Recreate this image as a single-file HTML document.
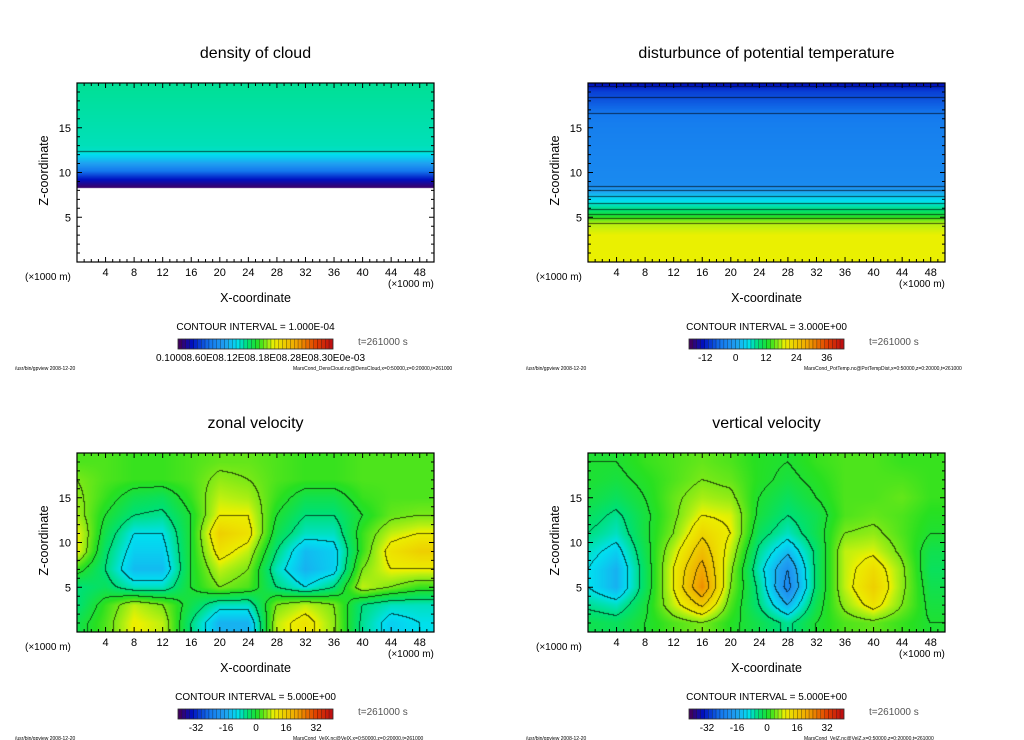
<!DOCTYPE html>
<html><head><meta charset="utf-8">
<style>
html,body{margin:0;padding:0;background:#fff;}
#root{position:relative;width:1024px;height:740px;overflow:hidden;font-family:"Liberation Sans",sans-serif;}
canvas{position:absolute;}
svg{position:absolute;left:0;top:0;}
</style></head>
<body>
<div id="root">
<svg id="ov" width="1024" height="740"></svg>
</div>
<script>
// ---- data ----
const gridX = [0,4,8,12,16,20,24,28,32,36,40,44,48];
const gridZ = [19,17,15,13,11,9,7,5,3,1];
const zonalVel = [
[3,3,2,2,3,4,4,3,2,2,3,3,3],
[5,3,2,2,3,6,5,3,2,2,3,3,3],
[6,2,-2,-3,2,8,7,2,-2,-2,2,3,3],
[7,0,-5,-6,0,10,10,0,-5,-5,0,4,5],
[10,-2,-10,-10,0,15,12,-2,-8,-8,2,8,10],
[10,-4,-12,-12,0,12,8,-5,-14,-12,2,12,15],
[2,-5,-14,-14,0,8,5,-8,-15,-12,5,10,10],
[-5,-3,-8,-8,0,5,3,-5,-10,-5,8,5,2],
[-5,2,8,5,-2,-8,-8,5,8,5,-5,-8,-8],
[-2,3,10,8,-5,-15,-15,8,12,6,-6,-12,-10]];
const vertVel = [
[0,0,2,3,4,3,1,0,2,3,3,2,2],
[0,-1,1,3,5,4,1,-1,1,3,3,3,2],
[-1,-3,0,4,7,6,0,-3,0,3,3,4,2],
[-3,-6,-1,4,10,9,-1,-5,-2,3,4,3,1],
[-5,-8,-1,5,14,10,-3,-8,-2,5,6,3,0],
[-8,-12,-2,8,18,8,-6,-14,-4,8,9,4,-2],
[-10,-15,-3,10,22,6,-8,-20,-4,8,13,6,-3],
[-10,-15,-3,10,25,5,-6,-22,-4,8,15,6,-2],
[-6,-8,-1,8,16,3,-5,-15,-2,6,12,5,-1],
[-2,-3,0,3,5,1,-2,-6,0,3,4,2,0]];
const thetaZ = [20,19,18.3,16.5,15,11,9,8.4,7.9,7.3,6.5,5.8,5.2,4.8,4.3,3,0];
const thetaVal = [-14,-10,-9,-6,-5,-4,-3.5,-3,0,3,6,9,12,15,18,19.5,19.5];
const cloudZ = [20,13,12.3,11,10,9.2,8.6,8.35];
const cloudVal = [21.5,20.5,20,15,9,4,1.5,0.5];
const cbTicksVel = [-32,-16,0,16,32];
const cbTicksTheta = [-12,0,12,24,36];
const xTicks = [4,8,12,16,20,24,28,32,36,40,44,48];
const zTicks = [5,10,15];

const stops=[[0,[64,0,96]],[0.08,[0,16,192]],[0.2,[20,120,238]],[0.3,[32,160,240]],[0.38,[0,224,240]],[0.45,[0,224,112]],[0.52,[40,224,32]],[0.6,[190,240,16]],[0.62,[236,240,0]],[0.78,[240,160,0]],[0.9,[224,64,0]],[1,[192,16,16]]];
function cmap(t){t=Math.max(0,Math.min(1,t));for(let i=1;i<stops.length;i++){if(t<=stops[i][0]){const a=stops[i-1],b=stops[i],f=(t-a[0])/(b[0]-a[0]);return [0,1,2].map(k=>a[1][k]+(b[1][k]-a[1][k])*f);}}return stops[stops.length-1][1];}
function interp1(arr,vals,v){
  const n=arr.length;const asc=arr[n-1]>arr[0];
  for(let i=0;i<n-1;i++){const a=arr[i],b=arr[i+1];if((asc&&v>=a&&v<=b)||(!asc&&v<=a&&v>=b)){return [i,(v-a)/(b-a)];}}
  if(asc) return v<arr[0]?[0,0]:[n-2,1]; return v>arr[0]?[0,0]:[n-2,1];
}
function field2D(grid){return (x,z)=>{const [i,fx]=interp1(gridX,null,x);const [j,fz]=interp1(gridZ,null,z);
  const a=grid[j][i],b=grid[j][i+1],c=grid[j+1][i],d=grid[j+1][i+1];return (a*(1-fx)+b*fx)*(1-fz)+(c*(1-fx)+d*fx)*fz;};}
function profile(zs,vs,minZ){return (x,z)=>{if(minZ!==undefined&&z<minZ)return NaN;const [j,f]=interp1(zs,null,z);return vs[j]*(1-f)+vs[j+1]*f;};}

const svg=document.getElementById('ov');const NS='http://www.w3.org/2000/svg';
function el(tag,attrs,txt){const e=document.createElementNS(NS,tag);for(const k in attrs)e.setAttribute(k,attrs[k]);if(txt!==undefined)e.textContent=txt;svg.appendChild(e);return e;}

function panel(o){
  const X0=o.x0,X1=o.x0+357,Y0=o.y0,Y1=o.y0+179,W=X1-X0,H=Y1-Y0;
  const sx=x=>X0+x/50*W, sz=z=>Y1-z/20*H;
  const cv=document.createElement('canvas');cv.width=W;cv.height=H;cv.style.left=X0+'px';cv.style.top=Y0+'px';
  
  
  document.getElementById('root').insertBefore(cv,svg);
  const ctx=cv.getContext('2d');const img=ctx.createImageData(W,H);
  const vals=new Float32Array(W*H);
  for(let py=0;py<H;py++)for(let px=0;px<W;px++){vals[py*W+px]=o.f((px+0.5)/W*50,20-(py+0.5)/H*20);}
  const lev=v=>Math.floor(v/o.step);
  for(let py=0;py<H;py++)for(let px=0;px<W;px++){
    const v=vals[py*W+px];const k=(py*W+px)*4;
    if(isNaN(v)){img.data[k]=255;img.data[k+1]=255;img.data[k+2]=255;img.data[k+3]=255;continue;}
    let c=cmap((v-o.vmin)/(o.vmax-o.vmin));
    let edge=false;
    if(px<W-1){const r=vals[py*W+px+1];if(!isNaN(r)&&lev(r)!==lev(v))edge=true;}
    if(py<H-1){const r=vals[(py+1)*W+px];if(!isNaN(r)&&lev(r)!==lev(v))edge=true;}
    if(edge){const m=0.35;c=c.map(q=>q*m);}
    img.data[k]=c[0];img.data[k+1]=c[1];img.data[k+2]=c[2];img.data[k+3]=255;
  }
  ctx.putImageData(img,0,0);
  el('rect',{x:X0,y:Y0,width:W,height:H,fill:'none',stroke:'#000','stroke-width':1.2,});
  let t='';
  for(let x=1;x<50;x++){const L=x%4===0?5:3;t+=`M${sx(x)},${Y1}v${-L}M${sx(x)},${Y0}v${L}`;}
  for(let z=1;z<20;z++){const L=z%5===0?5:3;t+=`M${X0},${sz(z)}h${L}M${X1},${sz(z)}h${-L}`;}
  el('path',{d:t,stroke:'#000','stroke-width':1,fill:'none',});
  const cx=(X0+X1)/2;
  el('text',{x:cx,y:Y0-25,'text-anchor':'middle','font-size':16,},o.title);
  xTicks.forEach(x=>el('text',{x:sx(x),y:Y1+14,'text-anchor':'middle','font-size':11,},x));
  zTicks.forEach(z=>el('text',{x:X0-6,y:sz(z)+4,'text-anchor':'end','font-size':11,},z));
  el('text',{x:X0-52,y:Y1+18,'font-size':10,},'(×1000 m)');
  el('text',{x:X1-46,y:Y1+25,'font-size':10,},'(×1000 m)');
  el('text',{x:cx,y:Y1+40,'text-anchor':'middle','font-size':12.5,},'X-coordinate');
  el('text',{x:0,y:0,'text-anchor':'middle','font-size':12.5,transform:`translate(${X0-29},${(Y0+Y1)/2-2}) rotate(-90)`,},'Z-coordinate');
  el('text',{x:cx,y:Y1+68,'text-anchor':'middle','font-size':10,},o.ci);
  const B0=X0+101,B1=X0+256,BY=Y1+77;
  const n=40;
  for(let i=0;i<n;i++){const c=cmap(i/(n-1)).map(Math.round);
    el('rect',{x:B0+i*(B1-B0)/n,y:BY,width:(B1-B0)/n,height:10,fill:`rgb(${c})`,stroke:'rgba(0,0,0,0.45)','stroke-width':0.5,});}
  el('rect',{x:B0,y:BY,width:B1-B0,height:10,fill:'none',stroke:'#333','stroke-width':0.8,});
  if(o.cbTicks){o.cbTicks.forEach(v=>el('text',{x:B0+(v-o.vmin)/(o.vmax-o.vmin)*(B1-B0),y:BY+22,'text-anchor':'middle','font-size':10,},v));}
  else el('text',{x:cx+5,y:BY+22,'text-anchor':'middle','font-size':10,},o.cbText);
  el('text',{x:X0+281,y:BY+6,'font-size':10,fill:'#555',},'t=261000 s');
  el('text',{x:X0-62,y:BY+31,'font-size':5,},'/usr/bin/gpview   2008-12-20');
  el('text',{x:X0+216,y:BY+31,'font-size':5,},o.foot);
}
panel({name:'density-of-cloud',x0:77,y0:83,title:'density of cloud',f:profile(cloudZ,cloudVal,8.3),vmin:0,vmax:50,step:20,ci:'CONTOUR INTERVAL = 1.000E-04',cbText:'0.10008.60E08.12E08.18E08.28E08.30E0e-03',foot:'MarsCond_DensCloud.nc@DensCloud,x=0:50000,z=0:20000,t=261000'});
panel({name:'potential-temperature',x0:588,y0:83,title:'disturbunce of potential temperature',f:profile(thetaZ,thetaVal),vmin:-18.4,vmax:42.8,step:3,ci:'CONTOUR INTERVAL = 3.000E+00',cbTicks:cbTicksTheta,foot:'MarsCond_PotTemp.nc@PotTempDist,x=0:50000,z=0:20000,t=261000'});
panel({name:'zonal-velocity',x0:77,y0:453,title:'zonal velocity',f:field2D(zonalVel),vmin:-41.6,vmax:41,step:5,ci:'CONTOUR INTERVAL = 5.000E+00',cbTicks:cbTicksVel,foot:'MarsCond_VelX.nc@VelX,x=0:50000,z=0:20000,t=261000'});
panel({name:'vertical-velocity',x0:588,y0:453,title:'vertical velocity',f:field2D(vertVel),vmin:-41.6,vmax:41,step:5,ci:'CONTOUR INTERVAL = 5.000E+00',cbTicks:cbTicksVel,foot:'MarsCond_VelZ.nc@VelZ,x=0:50000,z=0:20000,t=261000'});
</script>
</body></html>
